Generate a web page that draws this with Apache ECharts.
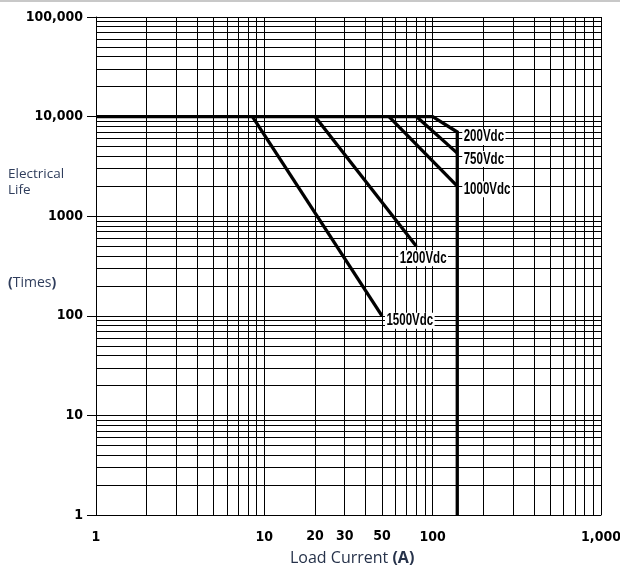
<!DOCTYPE html>
<html>
<head>
<meta charset="utf-8">
<script src="https://cdn.jsdelivr.net/npm/echarts@6/dist/echarts.min.js"></script>
<style>
html,body{margin:0;padding:0;background:#fff;}
#c{width:620px;height:573px;}
</style>
</head>
<body>
<div id="c"></div>
<script>
// ---- data (Load Current [A], Electrical Life [times]) ----
const curve200 = [[1, 10000], [100, 10000], [140, 7000], [140, 1]];
const curve750 = [[80, 10000], [140, 4300]];
const curve1000 = [[55, 10000], [140, 2000]];
const curve1200 = [[20, 10000], [80, 500]];
const curve1500 = [[8.5, 10000], [50, 100]];
const seriesNames = ['200Vdc', '750Vdc', '1000Vdc', '1200Vdc', '1500Vdc'];

// grid / tick values
const xMinorGrid = [2,3,4,5,6,7,8,9,20,30,40,50,60,70,80,90,200,300,400,500,600,700,800,900];
const xExtraLabels = [20, 30, 50];
const yMinorGrid = [2,3,4,5,6,7,8,9,20,30,40,50,60,70,80,90,200,300,400,500,600,700,800,900,
  2000,3000,4000,5000,6000,7000,8000,9000,20000,30000,40000,50000,60000,70000,80000,90000];
const yTickText = {1: '1', 10: '10', 100: '100', 1000: '1000', 10000: '10,000', 100000: '100,000'};
const xTickText = {1: '1', 10: '10', 100: '100', 1000: '1,000'};

const NARROW = "'Liberation Sans Narrow', 'Arial Narrow', 'DejaVu Sans Condensed', sans-serif";
const HUMAN = "'Open Sans', 'Noto Sans', sans-serif";

const chart = echarts.init(document.getElementById('c'), null, {renderer: 'canvas'});

const gridLine = {color: '#000', width: 1, type: 'solid'};

function markData() {
  const d = [];
  xMinorGrid.forEach(v => {
    const item = {xAxis: v, label: {show: false}};
    if (xExtraLabels.indexOf(v) >= 0) {
      item.label = {show: true, position: 'start', distance: 14, formatter: String(v),
        color: '#000', fontFamily: NARROW, fontWeight: 'bold', fontSize: 14};
    }
    d.push(item);
  });
  yMinorGrid.forEach(v => d.push({yAxis: v, label: {show: false}}));
  return d;
}

function curveSeries(name, data) {
  return {
    name: name, type: 'line', data: data, symbol: 'none',
    lineStyle: {color: '#000', width: 3.3, join: 'miter'},
    z: 5, silent: true, animation: false, clip: false
  };
}

const curves = [curve200, curve750, curve1000, curve1200, curve1500];
// which point of each curve carries its label, and the label's offset from it
const labelAnchor = [
  {point: 2, dx: 5, dy: 5},
  {point: 1, dx: 5, dy: 6},
  {point: 1, dx: 5, dy: 3},
  {point: 1, dx: -18, dy: 12},
  {point: 1, dx: 3, dy: 5}
];

const series = [
  {
    type: 'line', data: [], silent: true, animation: false, z: 1,
    markLine: {
      silent: true, animation: false, symbol: ['none', 'none'],
      lineStyle: gridLine, data: markData(), precision: 6
    }
  }
].concat(curves.map((c, i) => curveSeries(seriesNames[i], c)));

const baseGraphic = [
  {type: 'rect', id: 'topbar', shape: {x: 0, y: 0, width: 620, height: 2}, style: {fill: '#c8c8c8'}, silent: true},
  {type: 'text', id: 'yname1', left: 8, top: 166, silent: true,
   style: {text: 'Electrical\nLife', font: "13.5px " + HUMAN, fill: '#2f3d5c', lineHeight: 16}},
  {type: 'text', id: 'yname2', left: 8, top: 276, silent: true,
   style: {text: '{p|(}Times{p|)}', font: "14px " + HUMAN, fill: '#2f3d5c',
     rich: {p: {fontFamily: HUMAN, fontSize: 14, fontWeight: 'bold', color: '#4a3a20'}}}},
  {type: 'text', id: 'xname', left: 290, top: 550, silent: true,
   style: {text: 'Load Current {p|(A)}', font: "16px " + HUMAN, fill: '#26324a',
     rich: {p: {fontFamily: HUMAN, fontSize: 16, fontWeight: 'bold', color: '#26324a'}}}}
];

chart.setOption({
  animation: false,
  backgroundColor: '#fff',
  grid: {left: 96, right: 19, top: 17, bottom: 58, containLabel: false, outerBoundsMode: 'none'},
  xAxis: {
    type: 'log', logBase: 10, min: 1, max: 1000,
    axisLine: {show: true, lineStyle: {color: '#000', width: 1}},
    axisTick: {show: false},
    splitLine: {show: true, lineStyle: gridLine},
    axisLabel: {
      margin: 15, color: '#000', fontFamily: NARROW, fontWeight: 'bold', fontSize: 14,
      hideOverlap: false,
      formatter: v => xTickText[Math.round(v)] || ''
    }
  },
  yAxis: {
    type: 'log', logBase: 10, min: 1, max: 100000,
    axisLine: {show: true, lineStyle: {color: '#000', width: 1}},
    axisTick: {show: true, length: 9, lineStyle: {color: '#000', width: 1}},
    splitLine: {show: true, lineStyle: gridLine},
    axisLabel: {
      margin: 13, color: '#000', fontFamily: NARROW, fontWeight: 'bold', fontSize: 14,
      formatter: v => yTickText[Math.round(v)] || ''
    }
  },
  graphic: baseGraphic,
  series: series
});

// curve labels: narrow bold text placed at the curve end points via the chart's own scales
const labelGraphic = curves.map((c, i) => {
  const a = labelAnchor[i];
  const px = chart.convertToPixel({gridIndex: 0}, c[a.point]);
  return {
    type: 'text', id: 'lbl' + i, x: px[0] + a.dx, y: px[1] + a.dy, scaleX: 0.72, z: 100,
    silent: true,
    style: {
      text: seriesNames[i], font: "bold 16px 'Liberation Sans', Arial, sans-serif",
      fill: '#000', align: 'left', verticalAlign: 'middle',
      backgroundColor: '#fff', padding: [0, 2, 0, 2]
    }
  };
});
chart.setOption({graphic: baseGraphic.concat(labelGraphic)});
</script>
</body>
</html>
